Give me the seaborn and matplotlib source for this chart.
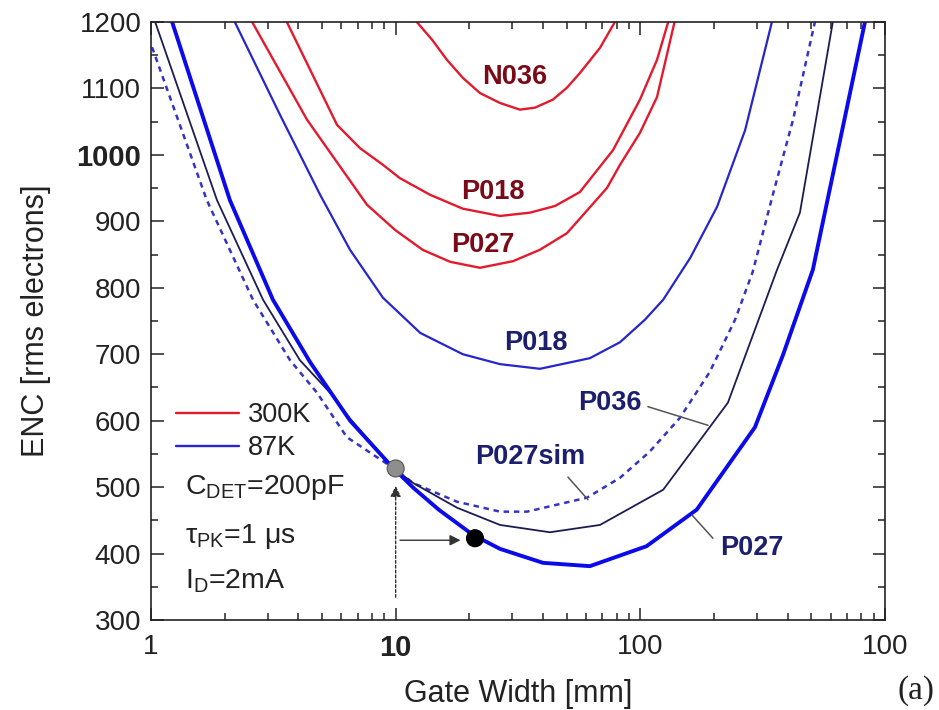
import matplotlib
matplotlib.use("Agg")
import matplotlib.pyplot as plt
import seaborn as sns
import pandas as pd
from matplotlib.lines import Line2D
from matplotlib.ticker import FixedLocator, MultipleLocator, LogLocator, NullFormatter

# ---------------- data (Gate width [mm], ENC [rms e-]) ----------------
n036_300k_x = [12.2, 14.1, 16.2, 18.8, 22.1, 26.7, 32.2, 37.1, 43.9, 50.1, 56.6, 68.4, 78.7]
n036_300k_y = [1200, 1173, 1143, 1116, 1093, 1078, 1068, 1071, 1083, 1101, 1123, 1161, 1200]

p018_300k_x = [3.59, 5.76, 7.15, 8.87, 10.4, 13.8, 18.8, 26.7, 35.4, 44.8, 56.6, 77.3, 99.6, 117, 130]
p018_300k_y = [1200, 1045, 1010, 985, 965, 940, 919, 908, 913, 923, 944, 1007, 1083, 1143, 1200]

p027_300k_x = [2.59, 4.34, 7.63, 9.94, 12.9, 16.7, 22.1, 30.2, 38.8, 50.1, 73.0, 82.6, 99.6, 117, 138]
p027_300k_y = [1200, 1053, 925, 887, 857, 839, 830, 840, 857, 882, 950, 985, 1033, 1087, 1200]

p018_87k_x = [2.20, 3.37, 4.91, 6.51, 8.87, 12.6, 18.8, 26.7, 38.9, 62.2, 82.6, 104.5, 124, 160, 206, 268, 345]
p018_87k_y = [1200, 1060, 940, 857, 785, 732, 700, 685, 678, 694, 718, 752, 782, 845, 922, 1037, 1200]

p036_87k_x = [1.04, 1.86, 2.87, 4.06, 5.39, 6.51, 9.75, 11.8, 17.8, 26.7, 42.7, 68.4, 124, 228, 362, 449, 612]
p036_87k_y = [1200, 932, 782, 691, 642, 603, 529, 506, 469, 443, 432, 443, 496, 627, 827, 913, 1200]

p027sim_x = [1.01, 1.69, 2.61, 3.70, 4.77, 6.32, 9.75, 11.8, 17.8, 26.7, 34.4, 60.5, 82.6, 109, 145, 192, 244, 288, 348, 421, 517]
p027sim_y = [1162, 932, 782, 691, 642, 575, 529, 506, 478, 463, 463, 484, 514, 553, 604, 673, 752, 824, 940, 1053, 1200]

p027_87k_x = [1.22, 2.10, 3.15, 4.47, 6.51, 9.75, 11.8, 15.0, 20.7, 26.7, 40.0, 62.2, 106, 170, 294, 383, 507, 828]
p027_87k_y = [1200, 932, 782, 688, 600, 529, 499, 466, 428, 407, 386, 381, 411, 466, 590, 699, 827, 1200]

marker_x = [10.0, 21.1]
marker_y = [528, 423]

x_ticks = [1, 10, 100, 1000]
x_ticklabels = ["1", "10", "100", "100"]
y_ticks = [300, 400, 500, 600, 700, 800, 900, 1000, 1100, 1200]
y_ticklabels = ["300", "400", "500", "600", "700", "800", "900", "1000", "1100", "1200"]

# ---------------- style ----------------
sns.set_style("ticks")
plt.rcParams["font.family"] = ["Liberation Sans", "DejaVu Sans"]
plt.rcParams["mathtext.fontset"] = "custom"
plt.rcParams["mathtext.rm"] = "Liberation Sans"
plt.rcParams["mathtext.it"] = "Liberation Sans:italic"
plt.rcParams["mathtext.bf"] = "Liberation Sans:bold"

RED = "#E31A2E"
RED_TXT = "#7A0A18"
BLUE18 = "#2626CC"
BLUE_THICK = "#0A0AEB"
NAVY = "#1C1C52"
DASH = "#3434C4"
BLUE_TXT = "#1B1F6E"

fig = plt.figure(figsize=(9.39, 7.1), dpi=100)
ax = fig.add_axes([0.1608, 0.1268, 0.7817, 0.8423])
ax.set_xscale("log")

def draw(xs, ys, color, lw, **kw):
    df = pd.DataFrame({"x": xs, "y": ys})
    sns.lineplot(data=df, x="x", y="y", ax=ax, color=color, lw=lw,
                 sort=False, estimator=None, **kw)

draw(n036_300k_x, n036_300k_y, RED, 1.7)
draw(p018_300k_x, p018_300k_y, RED, 1.7)
draw(p027_300k_x, p027_300k_y, RED, 1.7)
draw(p018_87k_x, p018_87k_y, BLUE18, 1.6)
draw(p027sim_x, p027sim_y, DASH, 1.8, linestyle=(0, (2.2, 1.9)))
draw(p036_87k_x, p036_87k_y, NAVY, 1.3)
draw(p027_87k_x, p027_87k_y, BLUE_THICK, 2.8)

# arrows
ax.annotate("", xy=(10.0, 506), xytext=(10.0, 330),
            arrowprops=dict(arrowstyle="-|>", color="#333333", lw=1.0,
                            linestyle=(0, (2, 1.5)), mutation_scale=16))
ax.annotate("", xy=(18.9, 420), xytext=(10.15, 420),
            arrowprops=dict(arrowstyle="-|>", color="#333333", lw=1.0,
                            mutation_scale=16))

mk = pd.DataFrame({"x": marker_x, "y": marker_y, "k": ["a", "b"]})
sns.scatterplot(data=mk, x="x", y="y", hue="k", palette=["#8E8E8E", "#000000"],
                s=150, edgecolor=["#555555", "#000000"], linewidth=0.8,
                legend=False, ax=ax, zorder=5)

# leader lines
for (x1, y1, x2, y2) in [(107.4, 621, 189, 593), (50.6, 515, 61.1, 481), (162.5, 458, 198, 423)]:
    ax.plot([x1, x2], [y1, y2], color="#555555", lw=1.1)

# curve labels
lab_fs = 19.5
ax.text(30.7, 1117, "N036", color=RED_TXT, fontsize=lab_fs, fontweight="bold", ha="center", va="center")
ax.text(25.0, 944, "P018", color=RED_TXT, fontsize=lab_fs, fontweight="bold", ha="center", va="center")
ax.text(22.7, 864, "P027", color=RED_TXT, fontsize=lab_fs, fontweight="bold", ha="center", va="center")
ax.text(37.4, 717, "P018", color=BLUE_TXT, fontsize=lab_fs, fontweight="bold", ha="center", va="center")
ax.text(75.1, 627, "P036", color=BLUE_TXT, fontsize=lab_fs, fontweight="bold", ha="center", va="center")
ax.text(35.4, 545, "P027sim", color=BLUE_TXT, fontsize=lab_fs, fontweight="bold", ha="center", va="center")
ax.text(286, 408, "P027", color=BLUE_TXT, fontsize=lab_fs, fontweight="bold", ha="center", va="center")

# legend
handles = [Line2D([0], [0], color=RED, lw=1.7), Line2D([0], [0], color="#2626CC", lw=1.7)]
leg = ax.legend(handles, ["300K", "87K"], loc="upper left", bbox_to_anchor=(0.019, 0.382),
                frameon=False, fontsize=19.5, handlelength=2.35, handletextpad=0.3,
                labelspacing=0.25, borderaxespad=0.0)
for t in leg.get_texts():
    t.set_color("#222222")

# conditions
cond_fs = 20.5
ax.text(0.046, 0.221, r"C$_{\rm DET}$=200pF", transform=ax.transAxes, fontsize=cond_fs,
        ha="left", va="center", color="#222222")
ax.text(0.046, 0.140, r"τ$_{\rm PK}$=1 μs", transform=ax.transAxes, fontsize=cond_fs,
        ha="left", va="center", color="#222222")
ax.text(0.046, 0.064, r"I$_{\rm D}$=2mA", transform=ax.transAxes, fontsize=cond_fs,
        ha="left", va="center", color="#222222")

# axes
ax.set_xlim(1, 1000)
ax.set_ylim(300, 1200)
ax.xaxis.set_major_locator(FixedLocator(x_ticks))
ax.set_xticklabels(x_ticklabels)
ax.xaxis.set_minor_locator(LogLocator(base=10, subs=range(2, 10)))
ax.xaxis.set_minor_formatter(NullFormatter())
ax.yaxis.set_major_locator(FixedLocator(y_ticks))
ax.set_yticklabels(y_ticklabels)
ax.yaxis.set_minor_locator(MultipleLocator(50))

ax.tick_params(which="both", direction="in", top=True, right=True, width=1.1, colors="#222222")
ax.tick_params(which="major", length=9, labelsize=20)
ax.tick_params(axis="x", which="major", pad=10)
ax.tick_params(axis="y", which="major", pad=7)
ax.tick_params(which="minor", length=5)
for lbl in ax.get_xticklabels():
    if lbl.get_text() == "10":
        lbl.set_fontweight("bold")
        lbl.set_fontsize(21)
for lbl in ax.get_yticklabels():
    if lbl.get_text() == "1000":
        lbl.set_fontweight("bold")
        lbl.set_fontsize(21)
for sp in ax.spines.values():
    sp.set_linewidth(1.2)
    sp.set_color("#222222")

ax.set_xlabel("Gate Width [mm]", fontsize=22, color="#222222", labelpad=12)
ax.set_ylabel("ENC [rms electrons]", fontsize=22, color="#222222", labelpad=18)

fig.text(0.995, 0.028, "(a)", fontsize=24, family="Liberation Serif", ha="right", va="center", color="#222222")

fig.savefig("out.png", dpi=100)
